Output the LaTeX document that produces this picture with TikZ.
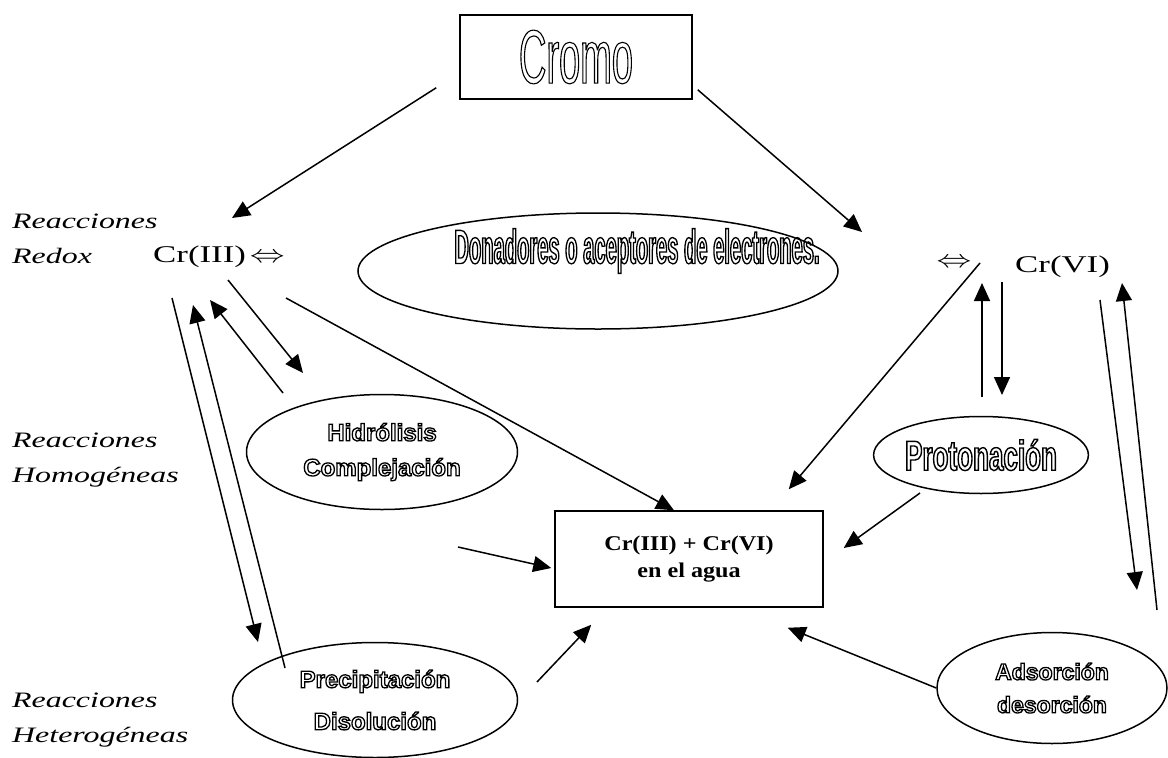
\documentclass[tikz,border=0pt]{standalone}
\usepackage{fontspec}
\setmainfont{Liberation Serif}
\newfontfamily\lanefont[FakeStretch=1.45]{Liberation Serif}
\newfontfamily\crfont[FakeStretch=1.45]{Liberation Serif}
\newfontfamily\aguafont[FakeStretch=1.15]{Liberation Serif}
\newfontfamily\cromofont[FakeStretch=0.5]{Liberation Sans}
\newfontfamily\bannerfont[FakeStretch=0.42]{Liberation Sans}
\newfontfamily\protfont[FakeStretch=0.62]{Liberation Sans}
\newfontfamily\ovalfont{Liberation Sans}
\usetikzlibrary{arrows.meta,shapes.geometric,calc}

\begin{document}
\begin{tikzpicture}[
    x=1pt, y=-1pt,
    % ---- styles -------------------------------------------------
    arr/.style={-{Triangle[length=18pt,width=16pt]}, line width=1.5pt},
    box/.style={rectangle, draw, line width=1.5pt, align=center, inner sep=0pt},
    oval/.style={ellipse, draw, line width=1.5pt, align=center, inner sep=0pt},
    hollow/.style={
        execute at begin node={\special{pdf:literal direct 1 Tr #1 w}},
        execute at end node={\special{pdf:literal direct 0 Tr}}},
    lane/.style={anchor=west, align=left, inner sep=0pt,
        font=\lanefont\itshape\fontsize{22}{35}\selectfont},
    species/.style={anchor=base west, inner sep=0pt,
        font=\crfont\fontsize{24}{28}\selectfont},
]
\useasboundingbox (0,0) rectangle (1168,758);

% =================== top: Cromo ===============================
\node[box, hollow=1.1, minimum width=232pt, minimum height=84pt,
      font=\cromofont\fontsize{76}{84}\selectfont] (cromo) at (576,57) {Cromo};

% =================== lane labels ==============================
\node[lane] (redox)  at (12,239) {Reacciones\\Redox};
\node[lane] (homog)  at (12,460) {Reacciones\\Homogéneas};
\node[lane] (hetero) at (12,720) {Reacciones\\Heterogéneas};

% =================== species ==================================
\node[species] (crIII) at (153,262) {Cr(III)\,\scalebox{1.4}[1]{$\Leftrightarrow$}};
\node[inner sep=0pt, font=\fontsize{24}{28}\selectfont] (dblVI) at (954,263)
    {\scalebox{1.4}[1]{$\Leftrightarrow$}};
\node[species] (crVI) at (1015,272) {Cr(VI)};

% =================== ovals ====================================
\node[oval, minimum width=480pt, minimum height=116pt] (donor) at (598,271) {};
\node[hollow=1.3, inner sep=0pt, font=\bannerfont\bfseries\fontsize{48}{54}\selectfont]
    (donorText) at (637,251) {Donadores o aceptores de electrones.};

\node[oval, hollow=1.3, minimum width=271pt, minimum height=115pt,
      font=\ovalfont\bfseries\fontsize{24}{35}\selectfont] (hidro) at (382,452)
    {Hidrólisis\\Complejación};
\node[oval, hollow=1.4, minimum width=198pt, minimum height=77pt,
      font=\protfont\bfseries\fontsize{42}{46}\selectfont] (proton) at (981,455)
    {Protonación};
\node[oval, hollow=1.3, minimum width=285pt, minimum height=115pt,
      font=\ovalfont\bfseries\fontsize{24}{42}\selectfont] (precip) at (375,700)
    {Precipitación\\Disolución};
\node[oval, hollow=1.3, minimum width=230pt, minimum height=111pt,
      font=\ovalfont\bfseries\fontsize{23}{33}\selectfont] (adsor) at (1052,688)
    {Adsorción\\desorción};

% =================== centre box ===============================
\node[box, minimum width=268pt, minimum height=96pt,
      font=\aguafont\bfseries\fontsize{21}{27}\selectfont] (agua) at (689,559)
    {Cr(III) + Cr(VI)\\en el agua};
\coordinate (loose) at (458,547);

% =================== Cromo -> species =========================
\draw[arr] ($(cromo.south west)+(-23,-12)$) -- ($(crIII.base west)+(79,-44)$);
\draw[arr] ($(cromo.south east)+(5,-10)$)   -- ($(dblVI)+(-92,-31)$);

% =================== Cr(III) side =============================
\draw[arr] ($(crIII.base west)+(75,18)$)  -- ($(hidro)+(-79,-79)$);
\draw[arr] ($(hidro)+(-99,-59)$)          -- ($(crIII.base west)+(57,38)$);
\draw[arr] ($(crIII.base west)+(19,36)$)  -- ($(precip)+(-117,-58)$);
\draw[arr] ($(precip)+(-90,-32)$)         -- ($(crIII.base west)+(40,43)$);
\draw[arr] ($(crIII.base west)+(133,36)$) -- ($(agua.north)+(-15,0)$);

% =================== Cr(VI) side ==============================
\draw[arr] ($(dblVI)+(26,0)$)            -- ($(agua.north east)+(-35,-21)$);
\draw[arr] ($(proton)+(1,-58)$)          -- ($(crVI.base west)+(-33,11)$);
\draw[arr] ($(crVI.base west)+(-13,10)$) -- ($(proton)+(21,-60)$);
\draw[arr] ($(crVI.base west)+(85,28)$)  -- ($(adsor)+(85,-98)$);
\draw[arr] ($(adsor)+(105,-78)$)         -- ($(crVI.base west)+(107,11)$);

% =================== into the water ===========================
\draw[arr] (loose)                 -- ($(agua.west)+(-3,9)$);
\draw[arr] ($(precip)+(162,-18)$)  -- ($(agua.south west)+(37,17)$);
\draw[arr] ($(proton)+(-61,38)$)   -- ($(agua.east)+(20,-11)$);
\draw[arr] (adsor.west)            -- ($(agua.south east)+(-36,20)$);

\end{tikzpicture}
\end{document}
